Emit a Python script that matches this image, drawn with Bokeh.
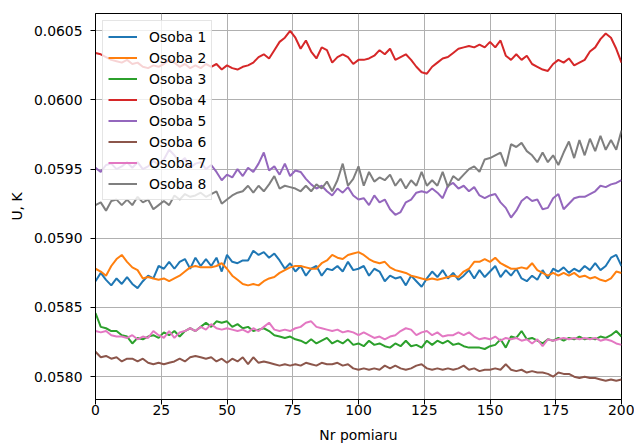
from bokeh.plotting import figure
from bokeh.models import Range1d, FixedTicker, PrintfTickFormatter
from bokeh.embed import file_html
from bokeh.resources import INLINE

nr_pomiaru = list(range(0, 201, 2))

osoba_1 = [0.05869,0.05875,0.05870,0.05866,0.05871,0.05867,0.05872,0.05867,0.05864,0.05869,
           0.05873,0.05871,0.05880,0.05878,0.05883,0.05878,0.05883,0.05885,0.05878,0.05886,
           0.05880,0.05885,0.05880,0.05886,0.05876,0.05888,0.05883,0.05882,0.05884,0.05884,
           0.05891,0.05888,0.05890,0.05886,0.05889,0.05884,0.05878,0.05882,0.05876,0.05880,
           0.05873,0.05878,0.05880,0.05873,0.05878,0.05877,0.05880,0.05876,0.05883,0.05877,
           0.05878,0.05880,0.05873,0.05878,0.05876,0.05869,0.05873,0.05871,0.05872,0.05866,
           0.05873,0.05869,0.05865,0.05871,0.05876,0.05872,0.05877,0.05871,0.05875,0.05870,
           0.05873,0.05877,0.05871,0.05877,0.05872,0.05876,0.05880,0.05872,0.05877,0.05873,
           0.05878,0.05871,0.05869,0.05873,0.05870,0.05877,0.05871,0.05878,0.05876,0.05879,
           0.05875,0.05878,0.05876,0.05880,0.05877,0.05882,0.05877,0.05880,0.05886,0.05888,
           0.05880]
osoba_2 = [0.05878,0.05876,0.05873,0.05880,0.05885,0.05888,0.05883,0.05879,0.05877,0.05871,
           0.05872,0.05871,0.05870,0.05871,0.05869,0.05871,0.05873,0.05876,0.05879,0.05880,
           0.05879,0.05879,0.05879,0.05880,0.05882,0.05878,0.05873,0.05870,0.05867,0.05866,
           0.05867,0.05866,0.05869,0.05871,0.05872,0.05875,0.05877,0.05879,0.05880,0.05880,
           0.05879,0.05878,0.05878,0.05882,0.05884,0.05888,0.05886,0.05885,0.05888,0.05889,
           0.05890,0.05888,0.05885,0.05883,0.05882,0.05883,0.05879,0.05877,0.05876,0.05875,
           0.05873,0.05872,0.05871,0.05870,0.05871,0.05870,0.05871,0.05872,0.05873,0.05872,
           0.05876,0.05878,0.05883,0.05883,0.05885,0.05883,0.05886,0.05882,0.05880,0.05878,
           0.05878,0.05879,0.05878,0.05882,0.05877,0.05875,0.05873,0.05875,0.05873,0.05875,
           0.05873,0.05875,0.05872,0.05873,0.05871,0.05872,0.05870,0.05869,0.05871,0.05876,
           0.05875]
osoba_3 = [0.05846,0.05836,0.05835,0.05833,0.05833,0.05830,0.05829,0.05824,0.05828,0.05827,
           0.05829,0.05830,0.05828,0.05832,0.05830,0.05833,0.05829,0.05833,0.05835,0.05833,
           0.05836,0.05839,0.05836,0.05840,0.05839,0.05840,0.05836,0.05838,0.05835,0.05836,
           0.05833,0.05834,0.05835,0.05833,0.05830,0.05829,0.05828,0.05829,0.05827,0.05826,
           0.05824,0.05827,0.05824,0.05826,0.05828,0.05824,0.05826,0.05824,0.05827,0.05823,
           0.05824,0.05822,0.05826,0.05823,0.05824,0.05822,0.05821,0.05824,0.05822,0.05826,
           0.05822,0.05823,0.05821,0.05826,0.05823,0.05826,0.05824,0.05826,0.05823,0.05824,
           0.05822,0.05821,0.05821,0.05821,0.05820,0.05822,0.05823,0.05827,0.05821,0.05829,
           0.05828,0.05833,0.05827,0.05828,0.05826,0.05824,0.05827,0.05826,0.05828,0.05826,
           0.05828,0.05827,0.05829,0.05827,0.05828,0.05827,0.05829,0.05828,0.05830,0.05833,
           0.05829]
osoba_4 = [0.06034,0.06033,0.06031,0.06029,0.06028,0.06027,0.06029,0.06026,0.06027,0.06024,
           0.06023,0.06025,0.06024,0.06026,0.06029,0.06027,0.06024,0.06026,0.06023,0.06025,
           0.06023,0.06026,0.06024,0.06026,0.06022,0.06025,0.06023,0.06022,0.06024,0.06025,
           0.06027,0.06031,0.06033,0.06030,0.06036,0.06042,0.06045,0.06050,0.06045,0.06037,
           0.06043,0.06035,0.06030,0.06038,0.06036,0.06027,0.06031,0.06033,0.06031,0.06026,
           0.06029,0.06029,0.06030,0.06032,0.06036,0.06033,0.06037,0.06029,0.06031,0.06033,
           0.06029,0.06024,0.06020,0.06019,0.06024,0.06027,0.06030,0.06031,0.06034,0.06037,
           0.06038,0.06039,0.06038,0.06040,0.06038,0.06042,0.06038,0.06043,0.06032,0.06029,
           0.06033,0.06029,0.06032,0.06026,0.06024,0.06022,0.06021,0.06026,0.06029,0.06027,
           0.06030,0.06025,0.06027,0.06029,0.06035,0.06038,0.06044,0.06048,0.06045,0.06037,
           0.06027]
osoba_5 = [0.05951,0.05948,0.05953,0.05954,0.05950,0.05952,0.05955,0.05951,0.05955,0.05950,
           0.05952,0.05956,0.05953,0.05957,0.05964,0.05960,0.05955,0.05958,0.05951,0.05954,
           0.05955,0.05950,0.05953,0.05948,0.05942,0.05946,0.05944,0.05950,0.05945,0.05951,
           0.05948,0.05954,0.05962,0.05949,0.05952,0.05946,0.05954,0.05945,0.05949,0.05948,
           0.05943,0.05939,0.05936,0.05938,0.05934,0.05931,0.05936,0.05933,0.05937,0.05931,
           0.05928,0.05929,0.05924,0.05931,0.05926,0.05928,0.05921,0.05917,0.05919,0.05926,
           0.05928,0.05933,0.05934,0.05933,0.05936,0.05933,0.05929,0.05938,0.05940,0.05936,
           0.05938,0.05934,0.05937,0.05931,0.05929,0.05931,0.05932,0.05926,0.05922,0.05915,
           0.05920,0.05927,0.05930,0.05927,0.05928,0.05921,0.05922,0.05929,0.05932,0.05921,
           0.05925,0.05929,0.05930,0.05930,0.05932,0.05934,0.05938,0.05937,0.05939,0.05940,
           0.05942]
osoba_6 = [0.05818,0.05814,0.05815,0.05813,0.05814,0.05811,0.05813,0.05813,0.05811,0.05813,
           0.05810,0.05809,0.05810,0.05809,0.05810,0.05811,0.05813,0.05811,0.05814,0.05815,
           0.05814,0.05813,0.05814,0.05811,0.05813,0.05810,0.05813,0.05811,0.05814,0.05809,
           0.05814,0.05810,0.05811,0.05810,0.05809,0.05808,0.05809,0.05808,0.05809,0.05808,
           0.05810,0.05809,0.05808,0.05810,0.05809,0.05809,0.05810,0.05808,0.05809,0.05806,
           0.05805,0.05806,0.05805,0.05806,0.05805,0.05808,0.05806,0.05808,0.05806,0.05805,
           0.05806,0.05808,0.05809,0.05806,0.05805,0.05806,0.05805,0.05806,0.05805,0.05806,
           0.05808,0.05805,0.05806,0.05804,0.05805,0.05805,0.05806,0.05805,0.05809,0.05805,
           0.05804,0.05805,0.05803,0.05804,0.05803,0.05803,0.05802,0.05800,0.05803,0.05802,
           0.05802,0.05800,0.05799,0.05800,0.05799,0.05799,0.05798,0.05797,0.05798,0.05797,
           0.05798]
osoba_7 = [0.05833,0.05832,0.05833,0.05830,0.05829,0.05829,0.05828,0.05830,0.05827,0.05829,
           0.05828,0.05833,0.05830,0.05828,0.05833,0.05828,0.05832,0.05833,0.05835,0.05833,
           0.05836,0.05834,0.05838,0.05835,0.05834,0.05835,0.05834,0.05833,0.05834,0.05832,
           0.05835,0.05833,0.05836,0.05839,0.05834,0.05833,0.05834,0.05833,0.05835,0.05836,
           0.05839,0.05840,0.05836,0.05835,0.05834,0.05833,0.05834,0.05832,0.05833,0.05832,
           0.05830,0.05832,0.05830,0.05828,0.05829,0.05827,0.05829,0.05830,0.05833,0.05835,
           0.05834,0.05830,0.05832,0.05833,0.05830,0.05832,0.05829,0.05830,0.05830,0.05832,
           0.05830,0.05832,0.05829,0.05827,0.05828,0.05827,0.05829,0.05826,0.05828,0.05827,
           0.05828,0.05826,0.05827,0.05824,0.05827,0.05822,0.05827,0.05826,0.05827,0.05828,
           0.05827,0.05828,0.05827,0.05828,0.05827,0.05828,0.05826,0.05827,0.05826,0.05824,
           0.05823]
osoba_8 = [0.05924,0.05926,0.05920,0.05927,0.05928,0.05924,0.05928,0.05924,0.05930,0.05926,
           0.05928,0.05921,0.05924,0.05927,0.05924,0.05931,0.05928,0.05932,0.05930,0.05931,
           0.05933,0.05930,0.05932,0.05934,0.05925,0.05928,0.05931,0.05933,0.05934,0.05938,
           0.05933,0.05938,0.05934,0.05939,0.05945,0.05936,0.05938,0.05937,0.05936,0.05934,
           0.05938,0.05934,0.05939,0.05936,0.05941,0.05934,0.05942,0.05954,0.05938,0.05943,
           0.05952,0.05938,0.05948,0.05941,0.05944,0.05942,0.05946,0.05938,0.05943,0.05936,
           0.05942,0.05938,0.05948,0.05938,0.05942,0.05938,0.05948,0.05937,0.05945,0.05942,
           0.05946,0.05950,0.05952,0.05948,0.05957,0.05958,0.05960,0.05962,0.05952,0.05968,
           0.05966,0.05969,0.05963,0.05960,0.05955,0.05962,0.05955,0.05960,0.05953,0.05962,
           0.05970,0.05958,0.05971,0.05960,0.05972,0.05963,0.05974,0.05964,0.05971,0.05964,
           0.05978]

series = [osoba_1, osoba_2, osoba_3, osoba_4, osoba_5, osoba_6, osoba_7, osoba_8]
labels = ["Osoba 1", "Osoba 2", "Osoba 3", "Osoba 4", "Osoba 5", "Osoba 6", "Osoba 7", "Osoba 8"]
colors = ["#1f77b4", "#ff7f0e", "#2ca02c", "#d62728", "#9467bd", "#8c564b", "#e377c2", "#7f7f7f"]

x_ticks = [0, 25, 50, 75, 100, 125, 150, 175, 200]
y_ticks = [0.0580, 0.0585, 0.0590, 0.0595, 0.0600, 0.0605]

FONT = "DejaVu Sans"
FS = "13.9px"
Y0, Y1 = 0.057835, 0.060625

p = figure(width=634, height=445, x_range=Range1d(0, 200), y_range=Range1d(Y0, Y1),
           output_backend="svg", toolbar_location=None,
           min_border_left=95, min_border_right=13, min_border_top=13, min_border_bottom=43)
p.background_fill_color = "white"
p.border_fill_color = "white"
p.outline_line_color = "black"
p.outline_line_width = 1
p.outline_line_alpha = 1

for ys, lab, col in zip(series, labels, colors):
    p.line(nr_pomiaru[:len(ys)], ys, line_color=col, line_width=2, legend_label=lab)

p.xaxis.ticker = FixedTicker(ticks=x_ticks)
p.yaxis.ticker = FixedTicker(ticks=y_ticks)
p.yaxis.formatter = PrintfTickFormatter(format="%.4f")
p.xaxis.axis_label = "Nr pomiaru"
p.yaxis.axis_label = "U, K"
for ax in (p.xaxis, p.yaxis):
    ax.axis_line_color = "black"
    ax.axis_line_width = 1
    ax.major_tick_line_color = "black"
    ax.major_tick_line_width = 1
    ax.major_tick_out = 5
    ax.major_tick_in = 0
    ax.minor_tick_line_color = None
    ax.major_label_text_font = FONT
    ax.major_label_text_font_size = FS
    ax.major_label_text_color = "black"
    ax.axis_label_text_font = FONT
    ax.axis_label_text_font_size = FS
    ax.axis_label_text_font_style = "normal"
    ax.axis_label_text_color = "black"
p.xaxis.major_label_standoff = 0
p.xaxis.axis_label_standoff = 9
p.yaxis.major_label_standoff = 8
p.yaxis.axis_label_standoff = 6

p.grid.grid_line_color = "#b0b0b0"
p.grid.grid_line_width = 1

lg = p.legend[0]
lg.location = "top_left"
lg.margin = 7
lg.padding = 5
lg.spacing = 0
lg.label_height = 21
lg.glyph_height = 21
lg.glyph_width = 29
lg.label_standoff = 12
lg.label_text_font = FONT
lg.label_text_font_size = FS
lg.label_text_color = "black"
lg.background_fill_color = "white"
lg.background_fill_alpha = 0.8
lg.border_line_color = "#cccccc"
lg.border_line_width = 1

open("out.html", "w").write(file_html(p, INLINE))
